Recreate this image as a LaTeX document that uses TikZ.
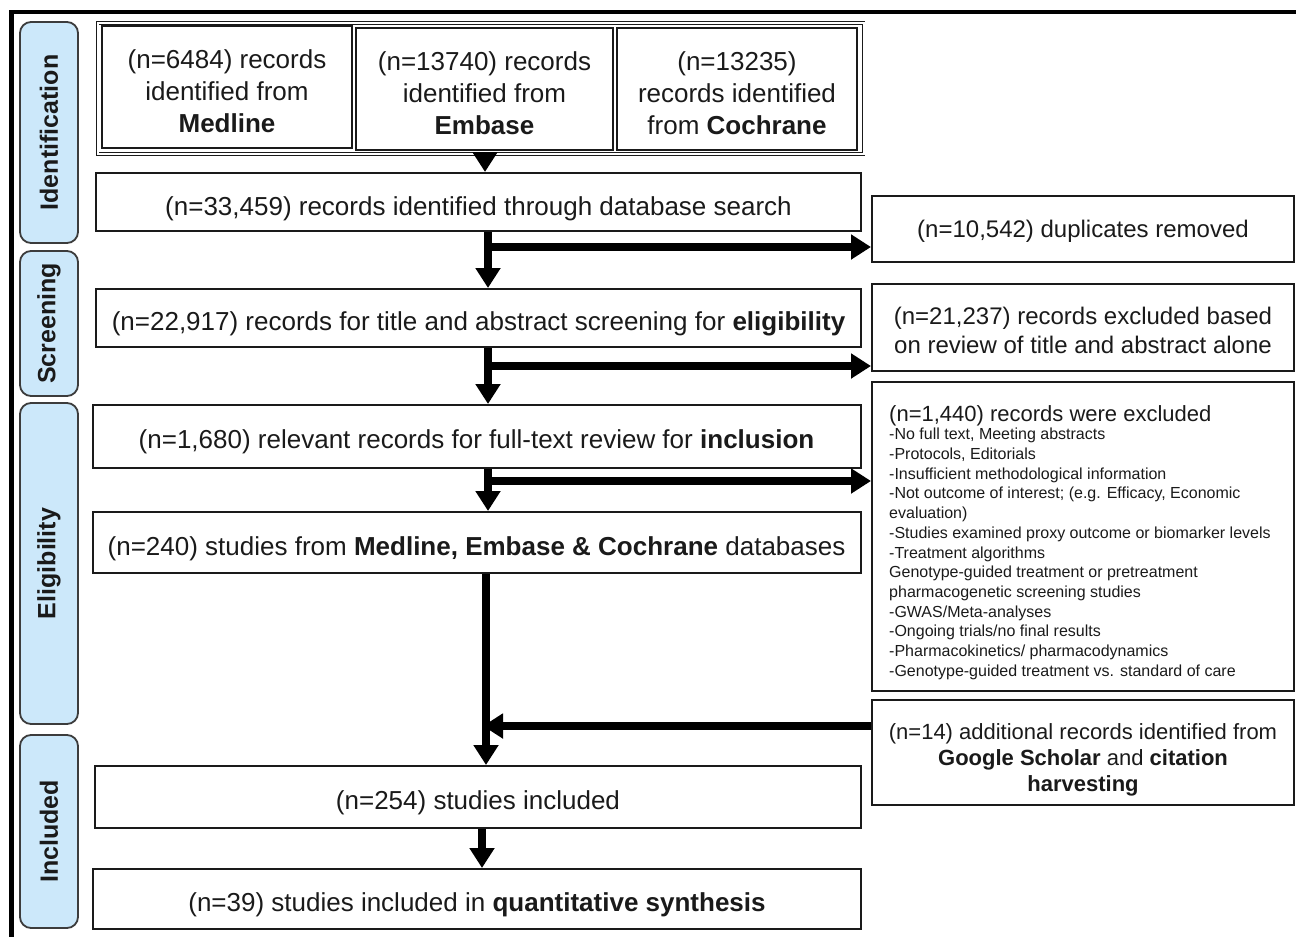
\documentclass[tikz,border=0pt]{standalone}
\usepackage{fontspec}
\setmainfont{Liberation Sans}
\usetikzlibrary{arrows.meta,calc}
\definecolor{stagefill}{HTML}{CCE8FA}
\definecolor{ink}{HTML}{1A1A1A}
\begin{document}
\begin{tikzpicture}[x=1pt,y=-1pt,
  box/.style={draw=ink, line width=2pt, inner sep=0pt},
  txt/.style={inner sep=0pt, align=center, text=ink},
  big/.style={font=\fontsize{26}{32}\selectfont},
  mid/.style={font=\fontsize{24}{29}\selectfont},
  sml/.style={font=\fontsize{22}{26}\selectfont},
  stage/.style={draw=ink!85, fill=stagefill, line width=1.8pt, rounded corners=11pt, inner sep=0pt, minimum width=58},
  stagetext/.style={rotate=90, font=\fontsize{25}{28}\selectfont\bfseries, text=ink, inner sep=0pt},
  arr/.style={draw=black, line width=8pt, -{Triangle[width=24pt,length=20pt]}},
]
\useasboundingbox (0,0) rectangle (1296,937);
% outer frame
\draw[line width=4.5pt, black] (11.5,945) -- (11.5,12) -- (1305,12);

% stage labels
\node[stage, minimum height=221] (sId) at (49,132.5) {};
\node[stagetext] (tId) at (sId.center) {Identification};
\node[stage, minimum height=145] (sSc) at (49,323.5) {};
\node[stagetext] (tSc) at (sSc.center) {Screening};
\node[stage, minimum height=321] (sEl) at (49,563.5) {};
\node[stagetext] (tEl) at (sEl.center) {Eligibility};
\node[stage, minimum height=193] (sIn) at (49,831.5) {};
\node[stagetext] (tIn) at (sIn.center) {Included};

% source boxes
\node[draw=ink, line width=0.9pt, double=white, double distance=1.5pt, minimum width=766, minimum height=131, inner sep=0pt] (src) at (480.75,88.5) {};
\node[box, minimum width=250, minimum height=122] (med) at (227,87) {};
\node[txt, big] (medt) at ([yshift=-4pt]med.center) {(n=6484) records\\identified from\\\textbf{Medline}};
\node[box, minimum width=257, minimum height=122] (emb) at (484.5,89) {};
\node[txt, big] (embt) at ([yshift=-4pt]emb.center) {(n=13740) records\\identified from\\\textbf{Embase}};
\node[box, minimum width=240, minimum height=122] (coc) at (737,89) {};
\node[txt, big] (coct) at ([yshift=-4pt]coc.center) {(n=13235)\\records identified\\from \textbf{Cochrane}};

% main column
\node[box, minimum width=765, minimum height=58] (db) at (478.5,202) {};
\node[txt, big] (dbt) at ([yshift=-7pt]db.center) {(n=33,459) records identified through database search};
\node[box, minimum width=765, minimum height=58] (scr) at (478.5,318) {};
\node[txt, big] (scrt) at ([yshift=-6pt]scr.center) {(n=22,917) records for title and abstract screening for \textbf{eligibility}};
\node[box, minimum width=768, minimum height=63] (full) at (476.5,436.5) {};
\node[txt, big] (fullt) at ([yshift=-5pt]full.center) {(n=1,680) relevant records for full-text review for \textbf{inclusion}};
\node[box, minimum width=768, minimum height=61] (stud) at (476.5,542.5) {};
\node[txt, big] (studt) at ([yshift=-6pt]stud.center) {(n=240) studies from \textbf{Medline, Embase \& Cochrane} databases};
\node[box, minimum width=766, minimum height=62] (inc) at (478,797) {};
\node[txt, big] (inct) at ([yshift=-6pt]inc.center) {(n=254) studies included};
\node[box, minimum width=768, minimum height=60] (quant) at (477,899) {};
\node[txt, big] (quantt) at ([yshift=-6pt]quant.center) {(n=39) studies included in \textbf{quantitative synthesis}};

% side column
\node[box, minimum width=422, minimum height=66] (dup) at (1083,229) {};
\node[txt, mid] (dupt) at ([yshift=-2pt]dup.center) {(n=10,542) duplicates removed};
\node[box, minimum width=422, minimum height=87] (ex1) at (1083,327.5) {};
\node[txt, mid] (ex1t) at ([yshift=-3pt]ex1.center) {(n=21,237) records excluded based\\on review of title and abstract alone};
\node[box, minimum width=422, minimum height=309] (ex2) at (1083,536.5) {};
\node[anchor=north west, align=left, inner sep=0pt, text=ink, font=\fontsize{16}{19.7}\selectfont] (ex2t) at (889,405) {{\fontsize{22}{24}\selectfont (n=1,440) records were excluded}\\[-1pt]
-No full text, Meeting abstracts\\
-Protocols, Editorials\\
-Insufficient methodological information\\
-Not outcome of interest; (e.g. Efficacy, Economic\\
evaluation)\\
-Studies examined proxy outcome or biomarker levels\\
-Treatment algorithms\\
Genotype-guided treatment or pretreatment\\
pharmacogenetic screening studies\\
-GWAS/Meta-analyses\\
-Ongoing trials/no final results\\
-Pharmacokinetics/ pharmacodynamics\\
-Genotype-guided treatment vs. standard of care};
\node[box, minimum width=422, minimum height=105] (add) at (1083,752.5) {};
\node[txt, sml] (addt) at ([yshift=-7pt]add.center) {(n=14) additional records identified from\\\textbf{Google Scholar} and \textbf{citation}\\\textbf{harvesting}};

% connectors
\coordinate (x1) at (485,0);
\coordinate (x2) at (488,0);
\coordinate (x3) at (482,0);
\coordinate (b1) at (488,247);
\coordinate (b2) at (488,366);
\coordinate (b3) at (488,481);
\coordinate (b4) at (486,726);
\draw[arr] (src.south -| x1) -- (db.north -| x1);
\draw[arr] (db.south -| x2) -- (scr.north -| x2);
\draw[arr] ([xshift=-4pt]b1) -- (b1 -| dup.west);
\draw[arr] (scr.south -| x2) -- (full.north -| x2);
\draw[arr] ([xshift=-4pt]b2) -- (b2 -| ex1.west);
\draw[arr] (full.south -| x2) -- (stud.north -| x2);
\draw[arr] ([xshift=-4pt]b3) -- (b3 -| ex2.west);
\draw[arr] (stud.south -| b4) -- (inc.north -| b4);
\draw[arr] (b4 -| add.west) -- ([xshift=-3pt]b4);
\draw[arr] (inc.south -| x3) -- (quant.north -| x3);
\end{tikzpicture}
\end{document}
